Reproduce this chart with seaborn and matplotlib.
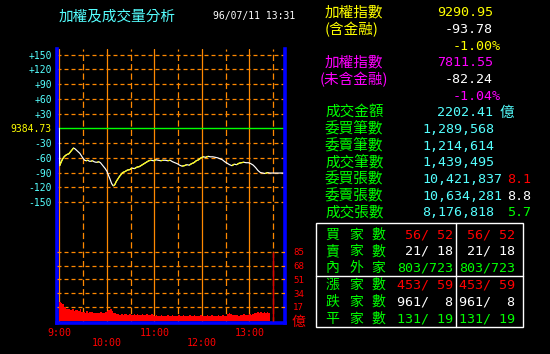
import matplotlib
matplotlib.use("Agg")
import matplotlib.pyplot as plt
import seaborn as sns
from matplotlib.collections import LineCollection
from matplotlib.patches import Rectangle

# ---- data ----
# weighted index: minutes after 9:00, change vs previous close (9384.73)
idx_minutes = [0, 0.5, 2, 4, 6, 8, 10, 12, 14, 16, 18, 20, 22, 24, 26, 28, 30, 32, 34, 36,
               38, 40, 42, 44, 46, 48, 50, 52, 54, 56, 58, 60, 62, 64, 66, 68, 70, 72, 74, 76,
               78, 80, 83, 86, 89, 92, 95, 98, 101, 104, 107, 110, 113, 116, 119, 122, 125, 128,
               131, 134, 137, 140, 143, 146, 149, 152, 155, 158, 161, 164, 167, 170, 173, 176,
               179, 182, 185, 188, 191, 194, 197, 200, 203, 206, 209, 212, 215, 218, 221, 224,
               227, 230, 233, 236, 239, 242, 245, 248, 251, 254, 257, 260, 263, 266, 270, 284]
idx_change = [0, -76, -70, -63, -58, -55, -53, -52, -48, -44, -40, -42, -45, -48, -51, -56, -61,
              -65, -66, -65, -67, -67, -66, -68, -69, -69, -68, -70, -74, -78, -82, -87, -95,
              -103, -112, -117, -115, -108, -103, -98, -94, -90, -88, -85, -84, -81, -82, -79,
              -78, -75, -72, -69, -66, -65, -66, -64, -65, -66, -65, -65, -66, -65, -68, -70,
              -72, -75, -77, -76, -74, -75, -72, -70, -66, -64, -60, -58, -59, -57, -58, -58,
              -59, -60, -62, -64, -68, -71, -74, -76, -73, -74, -71, -70, -69, -70, -70, -72,
              -75, -80, -86, -90, -91, -92, -90, -91, -91, -91]
idx_ticks = [150, 120, 90, 60, 30, 0, -30, -60, -90, -120, -150]
idx_tick_labels = ['+150', '+120', '+90', '+60', '+30', '9384.73', '-30', '-60', '-90', '-120', '-150']

# turnover (億) in 2-minute slots from 9:00 until 13:25
vol_minutes = list(range(0, 266, 2))
vol_values = [23, 22, 20, 17, 15, 14,
              14, 13, 14, 12, 13,
              13, 12, 14, 11, 11, 10, 12, 10, 11,
              11, 10, 10, 9, 10, 10, 11, 10, 10, 11,
              12, 13, 14, 12, 10, 9, 8,
              8, 7, 8, 7, 8, 8, 7, 8, 7, 7, 8, 7, 8, 7, 7, 8, 7, 7, 8, 7, 7, 8, 7,
              6, 7, 6, 6, 7, 6, 6, 6, 7, 6, 6, 7, 6, 6, 6, 7, 6, 6, 7, 6,
              6, 6, 7, 6, 6, 7, 6, 6, 6, 7, 6, 6, 6, 7, 6, 6, 7, 6, 6, 6,
              7, 6, 6, 7, 6, 6,
              8, 9, 8, 7, 7,
              7, 7, 6, 7, 7, 8, 7, 7, 7, 8, 7, 8,
              9, 10, 11, 10, 11, 10, 11, 10, 11, 10]
vol_ticks = [17, 34, 51, 68, 85]

hour_minutes = [0, 60, 120, 180, 240]
hour_labels = ['9:00', '\n10:00', '11:00', '\n12:00', '13:00']
half_minutes = [30, 90, 150, 210, 270]
now_minute = 270.5

# right-hand panel
head_labels = ['加權指數', '(含金融)', '加權指數', '(未含金融)']
head_values = ['9290.95', '-93.78', '-1.00%', '7811.55', '-82.24', '-1.04%']
stat_labels = ['成交金額', '委買筆數', '委賣筆數', '成交筆數', '委買張數', '委賣張數', '成交張數']
stat_values = ['2202.41', '1,289,568', '1,214,614', '1,439,495', '10,421,837', '10,634,281', '8,176,818']
ratio_values = ['8.1', '8.8', '5.7']
table_labels = ['買家數', '賣家數', '內外家', '漲家數', '跌家數', '平家數']
table_col1 = ['56/ 52', '21/ 18', '803/723', '453/ 59', '961/  8', '131/ 19']
table_col2 = ['56/ 52', '21/ 18', '803/723', '453/ 59', '961/  8', '131/ 19']

# ---- style ----
W, H = 550, 354
ORANGE = '#ff8800'
CYAN = '#55ffff'
YELLOW = '#ffff00'
MAGENTA = '#ff00ff'
GREEN = '#00ff00'
RED = '#ff0000'
BLUE = '#0000ff'
CJK = ['Noto Sans CJK TC', 'DejaVu Sans']
MONO = ['DejaVu Sans Mono']

sns.set_theme(style="dark", rc={'axes.facecolor': 'black', 'figure.facecolor': 'black',
                                'savefig.facecolor': 'black'})
plt.rcParams['font.family'] = CJK

fig = plt.figure(figsize=(W / 100, H / 100), dpi=100)


def ftext(x, y, s, **kw):
    return fig.text(x / W, 1 - y / H, s, **kw)


left, right, top, bottom = 57.5, 284.7, 49, 322.5
ax = fig.add_axes([left / W, (H - bottom) / H, (right - left) / W, (bottom - top) / H])
ax.set_facecolor('black')

px_per_min = 47.5 / 60
x0 = 59.3
ax.set_xlim(-(x0 - left) / px_per_min, (right - x0) / px_per_min)
px_per_pt = 14.75 / 30
ax.set_ylim((128.3 - bottom) / px_per_pt, (128.3 - top) / px_per_pt)

# grid
for v in idx_ticks:
    if v != 0:
        ax.axhline(v, color=ORANGE, lw=0.9, ls=(0, (3.2, 2.4)), zorder=1)
ax.axhline(0, color=GREEN, lw=1.0, zorder=2)
for m in hour_minutes:
    ax.axvline(m, color=ORANGE, lw=0.9, zorder=1)
for m in half_minutes:
    ax.axvline(m, color=ORANGE, lw=0.9, ls=(0, (5, 2.5)), zorder=1)

# index line: white, rising pieces in yellow
sns.lineplot(x=idx_minutes, y=idx_change, color='white', lw=0.85, ax=ax, zorder=3)
segs = [[(idx_minutes[i], idx_change[i]), (idx_minutes[i + 1], idx_change[i + 1])]
        for i in range(len(idx_minutes) - 1) if idx_change[i + 1] > idx_change[i]]
ax.add_collection(LineCollection(segs, colors=YELLOW, linewidths=0.85, zorder=4))

ax.set_yticks(idx_ticks)
ax.set_yticklabels(idx_tick_labels, family=MONO, fontsize=7)
for lab, v in zip(ax.get_yticklabels(), idx_ticks):
    lab.set_color(YELLOW if v == 0 else CYAN)
ax.tick_params(axis='y', length=0, pad=4)
ax.set_xticks(hour_minutes)
ax.set_xticklabels(hour_labels, family=MONO, fontsize=7.2, color=RED, linespacing=1.0)
ax.tick_params(axis='x', length=0, pad=4)
ax.set_xlabel('')
ax.set_ylabel('')
ax.grid(False)
for side in ['left', 'right', 'bottom']:
    ax.spines[side].set_color(BLUE)
    ax.spines[side].set_linewidth(2.6)
    ax.spines[side].set_zorder(10)
ax.spines['top'].set_visible(False)

# volume panel on a twin axis
ax2 = ax.twinx()
vol_px = 69.0 / 85
ax2.set_ylim((320.7 - bottom) / vol_px, (320.7 - top) / vol_px)
for v in vol_ticks:
    ax2.axhline(v, color=ORANGE, lw=0.9, ls=(0, (3.2, 2.4)), zorder=1)
ax2.bar(vol_minutes, vol_values, width=2, align='edge', color=RED, lw=0, zorder=3)
ax2.vlines([now_minute], 0, max(vol_ticks), color='#dd0000', lw=1.0, zorder=4)
ax2.set_yticks(vol_ticks)
ax2.set_yticklabels([str(v) for v in vol_ticks], family=MONO, fontsize=6.6, color=RED)
ax2.tick_params(axis='y', length=0, pad=6)
ax2.grid(False)
for s in ax2.spines.values():
    s.set_visible(False)
ftext(292, 322, '億', color=RED, fontsize=10, va='center', ha='left')

# header
ftext(59, 16, '加權及成交量分析', color=CYAN, fontsize=10.5, va='center')
ftext(213, 16, '96/07/11 13:31', color='white', fontsize=7, family=MONO, va='center')

# right panel
row_h = 16.66
def row_y(i):
    return 12.8 + i * row_h

head_colors = [YELLOW, YELLOW, MAGENTA, MAGENTA]
for lab, r, c, x in zip(head_labels, [0, 1, 3, 4], head_colors, [325, 325, 325, 320]):
    ftext(x, row_y(r), lab, color=c, fontsize=10.5, va='center')

hv_colors = [YELLOW, 'white', YELLOW, MAGENTA, 'white', MAGENTA]
for i, (v, c) in enumerate(zip(head_values, hv_colors)):
    if v.endswith('%'):
        ftext(501, row_y(i), v, color=c, fontsize=9.6, family=MONO, va='center', ha='right')
    else:
        ftext(493, row_y(i), v, color=c, fontsize=9.6, family=MONO, va='center', ha='right')

for i, (lab, v) in enumerate(zip(stat_labels, stat_values)):
    y = row_y(6 + i)
    ftext(325, y, lab, color=GREEN, fontsize=10.5, va='center')
    if len(v) >= 9:
        ftext(422, y, v, color=CYAN, fontsize=9.6, family=MONO, va='center', ha='left')
    else:
        ftext(493, y, v, color=CYAN, fontsize=9.6, family=MONO, va='center', ha='right')
ftext(500, row_y(6), '億', color=CYAN, fontsize=10.5, va='center')
for i, (v, c) in enumerate(zip(ratio_values, [RED, 'white', GREEN])):
    ftext(507, row_y(10 + i), v, color=c, fontsize=9.6, family=MONO, va='center')

# breadth table
bx0, bx1, by0, by1 = 315.7, 523.3, 223.3, 327.3
fig.patches.append(Rectangle((bx0 / W, 1 - by1 / H), (bx1 - bx0) / W, (by1 - by0) / H,
                             transform=fig.transFigure, fill=False, ec='white', lw=1.0))
fig.add_artist(plt.Line2D([455.7 / W] * 2, [1 - by0 / H, 1 - by1 / H], color='white', lw=1.0))
fig.add_artist(plt.Line2D([bx0 / W, bx1 / W], [1 - 275.7 / H] * 2, color='white', lw=1.0))
val_colors = [RED, 'white', GREEN, RED, 'white', GREEN]
for i, lab in enumerate(table_labels):
    y = 234.5 + i * 16.8
    for ch, cx in zip(lab, [332, 356, 378]):
        ftext(cx, y, ch, color=GREEN, fontsize=10, va='center', ha='center')
    ftext(453, y, table_col1[i], color=val_colors[i], fontsize=9.6, family=MONO, va='center', ha='right')
    ftext(515, y, table_col2[i], color=val_colors[i], fontsize=9.6, family=MONO, va='center', ha='right')

fig.savefig('out.png', dpi=100, facecolor='black')
